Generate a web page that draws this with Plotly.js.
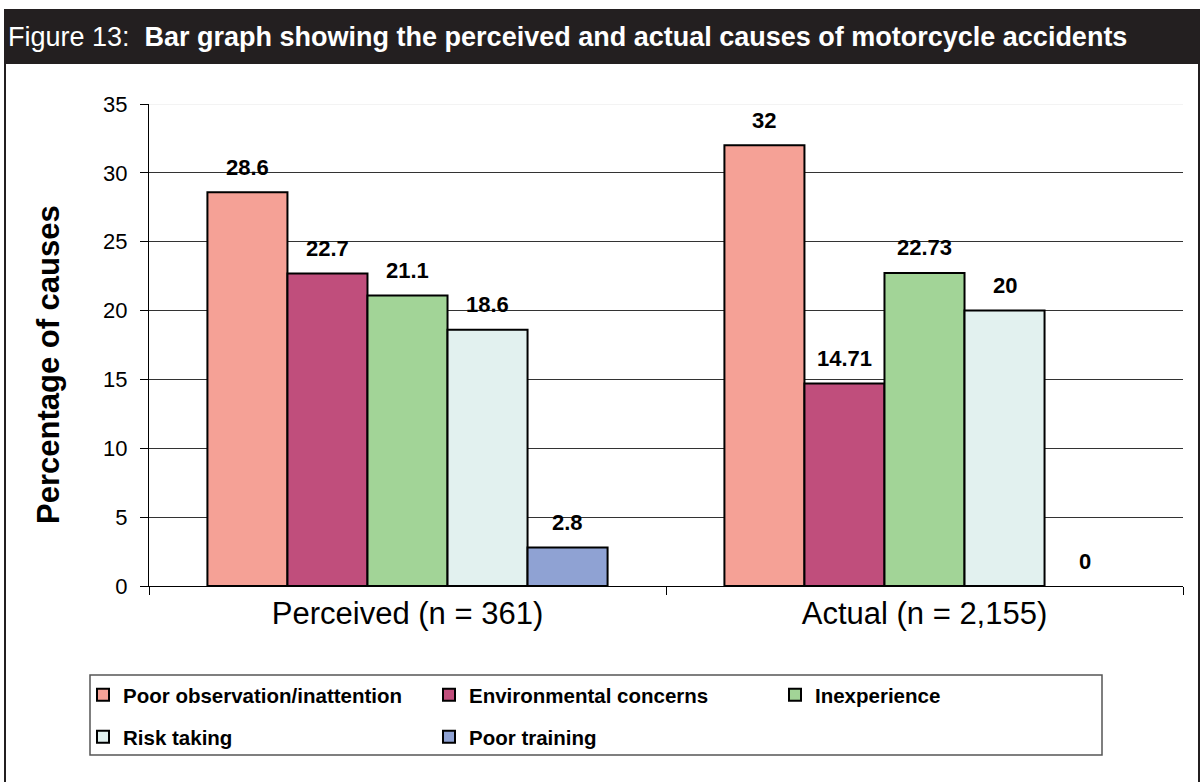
<!DOCTYPE html>
<html>
<head>
<meta charset="utf-8">
<script src="https://cdn.plot.ly/plotly-3.0.1.min.js"></script>
<style>
  html, body { margin: 0; padding: 0; background: #ffffff; }
  #chart { width: 1203px; height: 782px; }
</style>
</head>
<body>
<div id="chart"></div>
<script>
// ---- data ----
const categories = ['Perceived (n = 361)', 'Actual (n = 2,155)'];
const causes = ['Poor observation/inattention', 'Environmental concerns', 'Inexperience', 'Risk taking', 'Poor training'];
const poorObservation = [28.6, 32];
const environmentalConcerns = [22.7, 14.71];
const inexperience = [21.1, 22.73];
const riskTaking = [18.6, 20];
const poorTraining = [2.8, 0];
const yTickValues = [0, 5, 10, 15, 20, 25, 30, 35];

// ---- styling ----
const seriesValues = [poorObservation, environmentalConcerns, inexperience, riskTaking, poorTraining];
const colors = ['#F5A196', '#C04E7C', '#A2D497', '#E2F1EF', '#8FA2D3'];
const FONT = 'Liberation Sans, Arial, Helvetica, sans-serif';

const W = 1203, H = 782;
const M = { l: 149, r: 20, t: 104, b: 196 };
const plotW = W - M.l - M.r, plotH = H - M.t - M.b;
const px2x = p => (p - M.l) / plotW;
const px2y = p => (H - M.b - p) / plotH;
const BARGAP = 0.226;
const barUnit = (1 - BARGAP) / causes.length;

const traces = causes.map((name, i) => ({
  type: 'bar',
  name: name,
  x: categories,
  y: seriesValues[i],
  marker: {
    color: colors[i],
    line: { color: '#000000', width: seriesValues[i].map(v => (v > 0 ? 2 : 0)) }
  },
  legend: i < 3 ? 'legend' : 'legend2',
  hoverinfo: 'x+y+name'
}));

const annotations = [];
causes.forEach((name, i) => {
  seriesValues[i].forEach((v, j) => {
    annotations.push({
      xref: 'x', yref: 'y',
      x: j + (i - (causes.length - 1) / 2) * barUnit,
      y: v,
      text: String(v),
      showarrow: false,
      yanchor: 'middle',
      yshift: 25,
      font: { family: FONT, size: 22, color: '#000000', weight: 'bold' }
    });
  });
});

// y-axis title
annotations.push({
  xref: 'paper', yref: 'paper',
  x: px2x(48), y: px2y(365),
  xanchor: 'center', yanchor: 'middle',
  textangle: -90,
  text: '<b>Percentage of causes</b>',
  showarrow: false,
  font: { family: FONT, size: 31, color: '#000000' }
});

const shapes = [
  // black title bar
  { type: 'rect', xref: 'paper', yref: 'paper', x0: px2x(5), x1: px2x(1199), y0: px2y(64), y1: px2y(9),
    fillcolor: '#231F20', line: { width: 0 }, layer: 'below' },
  // panel frame (left/right)
  { type: 'line', xref: 'paper', yref: 'paper', x0: px2x(5), x1: px2x(5), y0: px2y(9), y1: px2y(782),
    line: { color: '#231F20', width: 2 } },
  { type: 'line', xref: 'paper', yref: 'paper', x0: px2x(1199), x1: px2x(1199), y0: px2y(9), y1: px2y(782),
    line: { color: '#231F20', width: 2 } },
  // faint top gridline
  { type: 'line', xref: 'paper', yref: 'y', x0: 0, x1: 1, y0: 35, y1: 35,
    line: { color: '#EFEFEF', width: 1.5 }, layer: 'above' },
  // legend frame
  { type: 'rect', xref: 'paper', yref: 'paper', x0: px2x(90), x1: px2x(1102), y0: px2y(755), y1: px2y(675),
    line: { color: '#555555', width: 1.5 }, fillcolor: 'rgba(0,0,0,0)' }
];

const legendBase = {
  orientation: 'h',
  xanchor: 'left',
  yanchor: 'middle',
  x: px2x(83),
  bgcolor: 'rgba(0,0,0,0)',
  borderwidth: 0,
  entrywidth: 301,
  entrywidthmode: 'pixels',
  traceorder: 'normal',
  font: { family: FONT, size: 20.5, color: '#000000', weight: 'bold' }
};

const layout = {
  width: W, height: H,
  margin: { l: M.l, r: M.r, t: M.t, b: M.b, pad: 0 },
  paper_bgcolor: '#FFFFFF',
  plot_bgcolor: '#FFFFFF',
  font: { family: FONT, color: '#000000' },
  title: {
    text: 'Figure 13:&nbsp; <b>Bar graph showing the perceived and actual causes of motorcycle accidents</b>',
    font: { family: FONT, size: 27, color: '#FFFFFF' },
    xref: 'container', yref: 'container',
    x: 8 / W, xanchor: 'left',
    y: 1 - 37 / H, yanchor: 'middle'
  },
  barmode: 'group',
  bargap: BARGAP,
  bargroupgap: 0,
  showlegend: true,
  legend: Object.assign({}, legendBase, { y: px2y(695) }),
  legend2: Object.assign({}, legendBase, { y: px2y(737) }),
  xaxis: {
    type: 'category',
    showline: true, linecolor: '#000000', linewidth: 1,
    ticks: 'outside', tickson: 'boundaries', ticklen: 8, tickcolor: '#000000', tickwidth: 1,
    tickfont: { family: FONT, size: 31, color: '#000000' },
    showgrid: false, zeroline: false,
    fixedrange: true
  },
  yaxis: {
    range: [0, 35],
    tickmode: 'array', tickvals: yTickValues,
    showline: true, linecolor: '#000000', linewidth: 1,
    ticks: 'outside', ticklen: 8, tickcolor: '#000000', tickwidth: 1,
    ticklabelstandoff: 8,
    tickfont: { family: FONT, size: 22, color: '#000000' },
    showgrid: true, gridcolor: '#333333', gridwidth: 1,
    zeroline: false,
    fixedrange: true
  },
  shapes: shapes,
  annotations: annotations
};

Plotly.newPlot('chart', traces, layout, { displayModeBar: false, staticPlot: true });
</script>
</body>
</html>
